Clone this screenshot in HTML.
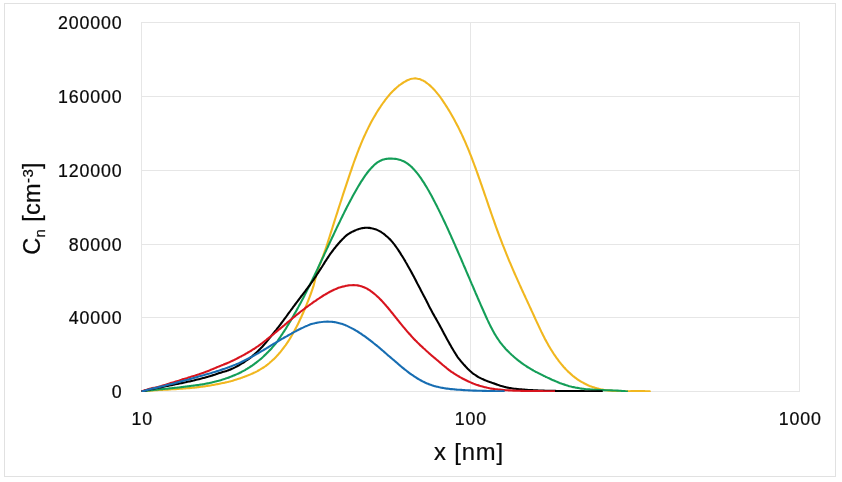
<!DOCTYPE html>
<html lang="en">
<head>
<meta charset="utf-8">
<title>Particle size distribution</title>
<style>
html,body{margin:0;padding:0;background:#fff;}
body{width:842px;height:482px;overflow:hidden;}
svg{display:block;}
text{font-family:"Liberation Sans",sans-serif;fill:#0a0a0a;stroke:#0a0a0a;stroke-width:0.22px;}
.tick{font-size:17.8px;letter-spacing:0.85px;}
.title{font-size:23.8px;letter-spacing:0.9px;}
.ytitle{letter-spacing:0.35px;font-size:23.5px;}
.sub{font-size:15px;}
.sup{font-size:15px;}
.grid line{stroke:#e6e6e6;stroke-width:1;shape-rendering:crispEdges;}
.series path{fill:none;stroke-width:2.1;stroke-linecap:butt;stroke-linejoin:round;}
</style>
</head>
<body>
<svg width="842" height="482" viewBox="0 0 842 482">
<rect x="0" y="0" width="842" height="482" fill="#ffffff"/>
<rect x="4.5" y="3.5" width="831" height="473" fill="none" stroke="#e1e1e1" stroke-width="1" shape-rendering="crispEdges"/>
<g class="grid">
<line x1="141" y1="22.5" x2="800" y2="22.5"/>
<line x1="141" y1="96.5" x2="800" y2="96.5"/>
<line x1="141" y1="170.5" x2="800" y2="170.5"/>
<line x1="141" y1="244.5" x2="800" y2="244.5"/>
<line x1="141" y1="317.5" x2="800" y2="317.5"/>
<line x1="141" y1="391.5" x2="800" y2="391.5"/>
<line x1="141.5" y1="22" x2="141.5" y2="392"/>
<line x1="470.5" y1="22" x2="470.5" y2="392"/>
<line x1="799.5" y1="22" x2="799.5" y2="392"/>
</g>
<clipPath id="plotclip"><rect x="140" y="20" width="662" height="372"/></clipPath>
<g class="series" clip-path="url(#plotclip)">
<path stroke="#f1b71f" d="M141.5,391.4C141.8,391.4 142.8,391.3 143.5,391.2C144.2,391.2 144.8,391.1 145.5,391.0C146.2,391.0 146.8,390.9 147.5,390.9C148.2,390.8 148.8,390.8 149.5,390.7C150.2,390.6 150.8,390.6 151.5,390.5C152.2,390.5 152.8,390.4 153.5,390.4C154.2,390.3 154.8,390.3 155.5,390.3C156.2,390.2 156.8,390.2 157.5,390.1C158.2,390.1 158.8,390.0 159.5,390.0C160.2,390.0 160.8,389.9 161.5,389.9C162.2,389.9 162.8,389.8 163.5,389.8C164.2,389.7 164.8,389.7 165.5,389.7C166.2,389.6 166.8,389.6 167.5,389.6C168.2,389.5 168.8,389.5 169.5,389.5C170.2,389.4 170.8,389.4 171.5,389.3C172.2,389.3 172.8,389.3 173.5,389.2C174.2,389.2 174.8,389.1 175.5,389.1C176.2,389.0 176.8,389.0 177.5,389.0C178.2,388.9 178.8,388.9 179.5,388.8C180.2,388.8 180.8,388.7 181.5,388.7C182.2,388.6 182.8,388.6 183.5,388.5C184.2,388.5 184.8,388.4 185.5,388.4C186.2,388.3 186.8,388.3 187.5,388.2C188.2,388.2 188.8,388.1 189.5,388.1C190.2,388.0 190.8,388.0 191.5,387.9C192.2,387.8 192.8,387.8 193.5,387.7C194.2,387.6 194.8,387.6 195.5,387.5C196.2,387.4 196.8,387.4 197.5,387.3C198.2,387.2 198.8,387.1 199.5,387.0C200.2,386.9 200.8,386.8 201.5,386.8C202.2,386.7 202.8,386.6 203.5,386.5C204.2,386.4 204.8,386.3 205.5,386.2C206.2,386.1 206.8,386.0 207.5,385.9C208.2,385.8 208.8,385.7 209.5,385.6C210.2,385.4 210.8,385.3 211.5,385.2C212.2,385.1 212.8,385.0 213.5,384.9C214.2,384.7 214.8,384.6 215.5,384.5C216.2,384.4 216.8,384.3 217.5,384.1C218.2,384.0 218.8,383.9 219.5,383.7C220.2,383.6 220.8,383.4 221.5,383.3C222.2,383.2 222.8,383.0 223.5,382.9C224.2,382.7 224.8,382.6 225.5,382.4C226.2,382.3 226.8,382.1 227.5,382.0C228.2,381.8 228.8,381.6 229.5,381.5C230.2,381.3 230.8,381.1 231.5,381.0C232.2,380.8 232.8,380.6 233.5,380.4C234.2,380.2 234.8,380.0 235.5,379.8C236.2,379.6 236.8,379.4 237.5,379.1C238.2,378.9 238.8,378.7 239.5,378.5C240.2,378.3 240.8,378.0 241.5,377.8C242.2,377.6 242.8,377.3 243.5,377.1C244.2,376.8 244.8,376.6 245.5,376.3C246.2,376.1 246.8,375.8 247.5,375.6C248.2,375.3 248.8,375.0 249.5,374.8C250.2,374.5 250.8,374.2 251.5,373.9C252.2,373.6 252.8,373.3 253.5,373.0C254.2,372.7 254.8,372.4 255.5,372.1C256.2,371.7 256.8,371.4 257.5,371.1C258.2,370.7 258.8,370.3 259.5,369.9C260.2,369.6 260.8,369.2 261.5,368.7C262.2,368.3 262.8,367.9 263.5,367.5C264.2,367.0 264.8,366.5 265.5,366.1C266.2,365.6 266.8,365.1 267.5,364.6C268.2,364.0 268.8,363.5 269.5,363.0C270.2,362.4 270.8,361.8 271.5,361.2C272.2,360.6 272.8,360.0 273.5,359.4C274.2,358.7 274.8,358.1 275.5,357.4C276.2,356.7 276.8,356.0 277.5,355.3C278.2,354.6 278.8,353.8 279.5,353.0C280.2,352.2 280.8,351.4 281.5,350.6C282.2,349.8 282.8,348.9 283.5,348.0C284.2,347.1 284.8,346.2 285.5,345.3C286.2,344.3 286.8,343.4 287.5,342.4C288.2,341.4 288.8,340.3 289.5,339.3C290.2,338.2 290.8,337.1 291.5,336.0C292.2,334.8 292.8,333.7 293.5,332.5C294.2,331.3 294.8,330.1 295.5,328.8C296.2,327.5 296.8,326.2 297.5,324.9C298.2,323.6 298.8,322.2 299.5,320.8C300.2,319.4 300.8,318.0 301.5,316.5C302.2,315.0 302.8,313.5 303.5,312.0C304.2,310.5 304.8,308.9 305.5,307.3C306.2,305.7 306.8,304.1 307.5,302.4C308.2,300.7 308.8,299.0 309.5,297.3C310.2,295.5 310.9,293.7 311.5,291.9C312.1,290.1 312.8,288.3 313.4,286.4C313.9,284.5 314.4,282.6 314.9,280.6C315.4,278.7 315.9,276.7 316.4,274.7C317.0,272.7 317.6,270.6 318.3,268.5C319.0,266.5 319.9,264.4 320.7,262.3C321.5,260.2 322.4,258.1 323.1,256.0C323.9,253.9 324.6,251.8 325.4,249.7C326.1,247.6 326.8,245.4 327.5,243.3C328.2,241.2 328.8,239.1 329.5,237.0C330.2,234.9 330.8,232.7 331.5,230.6C332.2,228.5 332.8,226.4 333.5,224.3C334.2,222.2 334.8,220.1 335.5,218.0C336.2,215.9 336.8,213.8 337.5,211.8C338.2,209.7 338.8,207.6 339.5,205.5C340.2,203.5 340.8,201.4 341.5,199.3C342.2,197.3 342.8,195.2 343.5,193.2C344.2,191.2 344.8,189.1 345.5,187.1C346.2,185.1 346.8,183.1 347.5,181.1C348.2,179.1 348.8,177.1 349.5,175.1C350.2,173.2 350.8,171.2 351.5,169.3C352.2,167.3 352.8,165.4 353.5,163.5C354.2,161.7 354.8,159.8 355.5,158.0C356.2,156.2 356.8,154.4 357.5,152.6C358.2,150.9 358.8,149.2 359.5,147.5C360.2,145.9 360.8,144.3 361.5,142.7C362.2,141.1 362.8,139.5 363.5,138.0C364.2,136.5 364.8,135.1 365.5,133.6C366.2,132.2 366.8,130.8 367.5,129.4C368.2,128.1 368.8,126.7 369.5,125.4C370.2,124.1 370.8,122.9 371.5,121.6C372.2,120.4 372.8,119.2 373.5,118.0C374.2,116.8 374.8,115.7 375.5,114.6C376.2,113.4 376.8,112.4 377.5,111.3C378.2,110.2 378.8,109.2 379.5,108.2C380.2,107.2 380.8,106.2 381.5,105.2C382.2,104.2 382.8,103.3 383.5,102.4C384.2,101.5 384.8,100.6 385.5,99.7C386.2,98.8 386.8,98.0 387.5,97.1C388.2,96.3 388.8,95.5 389.5,94.7C390.2,93.9 390.8,93.2 391.5,92.5C392.2,91.8 392.8,91.1 393.5,90.5C394.2,89.8 394.8,89.2 395.5,88.6C396.2,88.0 396.8,87.4 397.5,86.8C398.2,86.3 398.8,85.7 399.5,85.2C400.2,84.7 400.8,84.3 401.5,83.8C402.2,83.4 402.8,82.9 403.5,82.5C404.2,82.1 404.8,81.7 405.5,81.3C406.2,80.9 406.8,80.5 407.5,80.2C408.2,79.9 408.8,79.6 409.5,79.4C410.2,79.1 410.8,78.9 411.5,78.8C412.2,78.6 412.8,78.5 413.5,78.5C414.2,78.4 414.8,78.4 415.5,78.4C416.2,78.5 416.8,78.5 417.5,78.7C418.2,78.8 418.8,78.9 419.5,79.1C420.2,79.3 420.8,79.6 421.5,79.9C422.2,80.1 422.8,80.5 423.5,80.8C424.2,81.2 424.8,81.6 425.5,82.0C426.2,82.5 426.8,82.9 427.5,83.5C428.2,84.0 428.8,84.5 429.5,85.1C430.2,85.7 430.8,86.3 431.5,87.0C432.2,87.6 432.8,88.3 433.5,89.0C434.2,89.7 434.8,90.4 435.5,91.2C436.2,91.9 436.8,92.7 437.5,93.6C438.2,94.4 438.8,95.2 439.5,96.1C440.2,97.0 440.8,98.0 441.5,98.9C442.2,99.9 442.8,100.8 443.5,101.8C444.2,102.8 444.8,103.8 445.5,104.9C446.2,105.9 446.8,106.9 447.5,108.0C448.2,109.1 448.8,110.2 449.5,111.3C450.2,112.4 450.8,113.6 451.5,114.7C452.2,115.9 452.8,117.1 453.5,118.3C454.2,119.5 454.8,120.7 455.5,122.0C456.2,123.2 456.8,124.5 457.5,125.8C458.2,127.1 458.8,128.4 459.5,129.8C460.2,131.1 460.8,132.5 461.5,133.9C462.2,135.3 462.8,136.8 463.5,138.2C464.2,139.7 464.8,141.2 465.5,142.7C466.2,144.3 466.8,145.8 467.5,147.4C468.2,149.0 468.8,150.6 469.5,152.3C470.2,154.0 470.8,155.6 471.5,157.4C472.2,159.1 472.8,160.8 473.5,162.6C474.2,164.4 474.8,166.2 475.5,168.0C476.2,169.8 476.8,171.7 477.5,173.5C478.2,175.4 478.8,177.3 479.5,179.2C480.2,181.1 480.8,183.0 481.5,184.9C482.2,186.8 482.8,188.8 483.5,190.7C484.2,192.7 484.8,194.6 485.5,196.5C486.2,198.5 486.8,200.4 487.5,202.4C488.2,204.3 488.8,206.3 489.5,208.2C490.2,210.1 490.8,212.1 491.5,214.0C492.2,215.9 492.8,217.8 493.5,219.7C494.2,221.6 494.8,223.5 495.5,225.3C496.2,227.2 496.8,229.0 497.5,230.9C498.2,232.7 498.8,234.5 499.5,236.3C500.2,238.0 500.8,239.8 501.5,241.5C502.2,243.3 502.8,245.0 503.5,246.7C504.2,248.4 504.8,250.0 505.5,251.7C506.2,253.4 506.8,255.0 507.5,256.6C508.2,258.2 508.8,259.9 509.5,261.5C510.2,263.0 510.8,264.6 511.5,266.2C512.2,267.8 512.8,269.3 513.5,270.8C514.2,272.4 514.8,273.9 515.5,275.4C516.2,276.9 516.8,278.4 517.5,279.9C518.2,281.4 518.8,282.9 519.5,284.4C520.2,285.8 520.8,287.3 521.5,288.8C522.2,290.2 522.8,291.7 523.5,293.1C524.2,294.6 524.8,296.0 525.5,297.5C526.2,298.9 526.8,300.4 527.5,301.8C528.2,303.3 528.8,304.7 529.5,306.1C530.2,307.6 530.8,309.0 531.5,310.5C532.2,311.9 532.8,313.4 533.5,314.8C534.2,316.3 534.8,317.7 535.5,319.2C536.2,320.6 536.8,322.1 537.5,323.5C538.2,324.9 538.8,326.4 539.5,327.8C540.2,329.2 540.8,330.6 541.5,332.0C542.2,333.3 542.8,334.7 543.5,336.0C544.2,337.3 544.8,338.6 545.5,339.9C546.2,341.1 546.8,342.3 547.5,343.5C548.2,344.7 548.8,345.9 549.5,347.0C550.2,348.2 550.8,349.3 551.5,350.3C552.2,351.4 552.8,352.5 553.5,353.5C554.2,354.5 554.8,355.5 555.5,356.4C556.2,357.4 556.8,358.3 557.5,359.2C558.2,360.1 558.8,361.0 559.5,361.9C560.2,362.7 560.8,363.6 561.5,364.4C562.2,365.2 562.8,365.9 563.5,366.7C564.2,367.4 564.8,368.2 565.5,368.9C566.2,369.6 566.8,370.3 567.5,370.9C568.2,371.6 568.8,372.2 569.5,372.8C570.2,373.5 570.8,374.1 571.5,374.6C572.2,375.2 572.8,375.8 573.5,376.3C574.2,376.8 574.8,377.4 575.5,377.9C576.2,378.4 576.8,378.8 577.5,379.3C578.2,379.8 578.8,380.2 579.5,380.6C580.2,381.1 580.8,381.5 581.5,381.9C582.2,382.3 582.8,382.6 583.5,383.0C584.2,383.4 584.8,383.7 585.5,384.0C586.2,384.4 586.8,384.7 587.5,385.0C588.2,385.3 588.8,385.6 589.5,385.9C590.2,386.1 590.8,386.4 591.5,386.6C592.2,386.9 592.8,387.1 593.5,387.3C594.2,387.6 594.8,387.8 595.5,388.0C596.2,388.2 596.8,388.4 597.5,388.5C598.2,388.7 598.8,388.9 599.5,389.0C600.2,389.2 600.8,389.3 601.5,389.5C602.2,389.6 602.8,389.7 603.5,389.8C604.2,389.9 604.8,390.1 605.5,390.1C606.2,390.2 606.8,390.3 607.5,390.4C608.2,390.5 608.8,390.6 609.5,390.6C610.2,390.7 610.8,390.8 611.5,390.8C612.2,390.9 612.8,390.9 613.5,391.0C614.2,391.0 614.8,391.0 615.5,391.1C616.2,391.1 616.8,391.1 617.5,391.1C618.2,391.2 618.8,391.2 619.5,391.2C620.2,391.2 620.8,391.2 621.5,391.2C622.2,391.2 622.8,391.2 623.5,391.2C624.2,391.2 624.8,391.2 625.5,391.2C626.2,391.2 626.8,391.2 627.5,391.2C628.2,391.2 628.8,391.2 629.5,391.2C630.2,391.2 630.8,391.2 631.5,391.1C632.2,391.1 632.8,391.1 633.5,391.1C634.2,391.1 634.8,391.1 635.5,391.1C636.2,391.1 636.8,391.1 637.5,391.1C638.2,391.1 638.8,391.1 639.5,391.1C640.2,391.1 640.8,391.1 641.5,391.1C642.2,391.1 642.8,391.1 643.5,391.1C644.2,391.1 644.8,391.2 645.5,391.2C646.2,391.2 646.8,391.2 647.5,391.3C648.2,391.3 649.1,391.4 649.5,391.4C649.9,391.4 649.8,391.4 649.8,391.4"/>
<path stroke="#149e58" d="M141.5,391.4C141.8,391.4 142.8,391.2 143.5,391.1C144.2,391.0 144.8,391.0 145.5,390.9C146.2,390.8 146.8,390.7 147.5,390.6C148.2,390.5 148.8,390.5 149.5,390.4C150.2,390.3 150.8,390.2 151.5,390.1C152.2,390.1 152.8,390.0 153.5,389.9C154.2,389.8 154.8,389.8 155.5,389.7C156.2,389.6 156.8,389.6 157.5,389.5C158.2,389.4 158.8,389.4 159.5,389.3C160.2,389.3 160.8,389.2 161.5,389.1C162.2,389.1 162.8,389.0 163.5,388.9C164.2,388.9 164.8,388.8 165.5,388.8C166.2,388.7 166.8,388.6 167.5,388.6C168.2,388.5 168.8,388.5 169.5,388.4C170.2,388.3 170.8,388.3 171.5,388.2C172.2,388.1 172.8,388.1 173.5,388.0C174.2,387.9 174.8,387.9 175.5,387.8C176.2,387.7 176.8,387.7 177.5,387.6C178.2,387.5 178.8,387.4 179.5,387.4C180.2,387.3 180.8,387.2 181.5,387.1C182.2,387.0 182.8,387.0 183.5,386.9C184.2,386.8 184.8,386.7 185.5,386.6C186.2,386.5 186.8,386.5 187.5,386.4C188.2,386.3 188.8,386.2 189.5,386.1C190.2,386.0 190.8,385.9 191.5,385.8C192.2,385.7 192.8,385.7 193.5,385.6C194.2,385.5 194.8,385.4 195.5,385.3C196.2,385.3 196.8,385.2 197.5,385.1C198.2,385.0 198.8,384.9 199.5,384.8C200.2,384.7 200.8,384.6 201.5,384.5C202.2,384.4 202.8,384.3 203.5,384.2C204.2,384.0 204.8,383.9 205.5,383.8C206.2,383.7 206.8,383.5 207.5,383.4C208.2,383.3 208.8,383.1 209.5,383.0C210.2,382.9 210.8,382.7 211.5,382.6C212.2,382.4 212.8,382.3 213.5,382.1C214.2,381.9 214.8,381.8 215.5,381.6C216.2,381.4 216.8,381.3 217.5,381.1C218.2,380.9 218.8,380.7 219.5,380.5C220.2,380.3 220.8,380.1 221.5,379.9C222.2,379.7 222.8,379.5 223.5,379.3C224.2,379.1 224.8,378.9 225.5,378.6C226.2,378.4 226.8,378.2 227.5,377.9C228.2,377.7 228.8,377.5 229.5,377.2C230.2,376.9 230.8,376.7 231.5,376.4C232.2,376.2 232.8,375.9 233.5,375.6C234.2,375.4 234.8,375.1 235.5,374.8C236.2,374.5 236.8,374.2 237.5,373.9C238.2,373.6 238.8,373.3 239.5,373.0C240.2,372.7 240.8,372.3 241.5,372.0C242.2,371.6 242.8,371.3 243.5,370.9C244.2,370.6 244.8,370.2 245.5,369.8C246.2,369.4 246.8,369.0 247.5,368.6C248.2,368.2 248.8,367.7 249.5,367.3C250.2,366.9 250.8,366.4 251.5,366.0C252.2,365.5 252.8,365.1 253.5,364.6C254.2,364.1 254.8,363.6 255.5,363.1C256.2,362.6 256.8,362.1 257.5,361.6C258.2,361.1 258.8,360.5 259.5,360.0C260.2,359.4 260.8,358.8 261.5,358.3C262.2,357.7 262.8,357.1 263.5,356.5C264.2,355.9 264.8,355.3 265.5,354.6C266.2,354.0 266.8,353.3 267.5,352.6C268.2,352.0 268.8,351.3 269.5,350.6C270.2,349.9 270.8,349.1 271.5,348.4C272.2,347.7 272.8,346.9 273.5,346.1C274.2,345.3 274.8,344.5 275.5,343.7C276.2,342.9 276.8,342.0 277.5,341.1C278.2,340.1 278.8,339.2 279.5,338.2C280.2,337.2 280.8,336.2 281.5,335.2C282.2,334.2 282.8,333.2 283.5,332.2C284.2,331.2 284.8,330.1 285.5,329.1C286.2,328.0 286.8,326.9 287.5,325.8C288.2,324.7 288.8,323.6 289.5,322.5C290.2,321.4 290.8,320.3 291.5,319.2C292.2,318.0 292.8,316.9 293.5,315.7C294.2,314.6 294.8,313.4 295.5,312.2C296.2,311.0 296.8,309.8 297.5,308.6C298.2,307.4 298.8,306.2 299.5,304.9C300.2,303.7 300.8,302.5 301.5,301.2C302.2,300.0 302.8,298.7 303.5,297.4C304.2,296.1 304.8,294.8 305.5,293.5C306.2,292.2 306.8,290.9 307.5,289.6C308.2,288.2 308.8,286.9 309.5,285.5C310.2,284.2 310.8,282.8 311.5,281.5C312.2,280.1 312.8,278.7 313.5,277.3C314.2,276.0 314.8,274.6 315.5,273.2C316.2,271.8 316.8,270.4 317.5,269.0C318.2,267.5 318.8,266.1 319.5,264.7C320.2,263.3 320.8,261.9 321.5,260.4C322.2,259.0 322.8,257.6 323.5,256.2C324.2,254.7 324.8,253.3 325.5,251.9C326.2,250.4 326.8,249.0 327.5,247.6C328.2,246.1 328.8,244.7 329.5,243.3C330.2,241.9 330.8,240.4 331.5,239.0C332.2,237.6 332.8,236.2 333.5,234.7C334.2,233.3 334.8,231.9 335.5,230.5C336.2,229.1 336.8,227.7 337.5,226.3C338.2,224.9 338.8,223.5 339.5,222.2C340.2,220.8 340.8,219.4 341.5,218.0C342.2,216.7 342.8,215.3 343.5,214.0C344.2,212.6 344.8,211.3 345.5,210.0C346.2,208.7 346.8,207.4 347.5,206.1C348.2,204.8 348.8,203.5 349.5,202.2C350.2,200.9 350.8,199.7 351.5,198.5C352.2,197.2 352.8,196.0 353.5,194.8C354.2,193.6 354.8,192.4 355.5,191.2C356.2,190.0 356.8,188.9 357.5,187.7C358.2,186.6 358.8,185.5 359.5,184.4C360.2,183.3 360.8,182.2 361.5,181.2C362.2,180.1 362.8,179.1 363.5,178.1C364.2,177.1 364.8,176.2 365.5,175.2C366.2,174.3 366.8,173.4 367.5,172.5C368.2,171.7 368.8,170.8 369.5,170.1C370.2,169.3 370.8,168.5 371.5,167.8C372.2,167.1 372.8,166.4 373.5,165.7C374.2,165.1 374.8,164.5 375.5,163.9C376.2,163.4 376.8,162.9 377.5,162.4C378.2,162.0 378.8,161.5 379.5,161.2C380.2,160.8 380.8,160.5 381.5,160.2C382.2,159.9 382.8,159.7 383.5,159.5C384.2,159.3 384.8,159.2 385.5,159.0C386.2,158.9 386.8,158.8 387.5,158.7C388.2,158.7 388.8,158.6 389.5,158.6C390.2,158.6 390.8,158.6 391.5,158.6C392.2,158.6 392.8,158.6 393.5,158.7C394.2,158.7 394.8,158.8 395.5,158.9C396.2,159.0 396.8,159.1 397.5,159.2C398.2,159.4 398.8,159.5 399.5,159.7C400.2,159.9 400.8,160.1 401.5,160.4C402.2,160.6 402.8,160.9 403.5,161.2C404.2,161.6 404.8,161.9 405.5,162.3C406.2,162.7 406.8,163.1 407.5,163.6C408.2,164.1 408.8,164.6 409.5,165.1C410.2,165.7 410.8,166.3 411.5,166.9C412.2,167.5 412.8,168.2 413.5,168.9C414.2,169.6 414.8,170.4 415.5,171.2C416.2,171.9 416.8,172.8 417.5,173.6C418.2,174.5 418.8,175.4 419.5,176.3C420.2,177.2 420.8,178.2 421.5,179.1C422.2,180.1 422.8,181.1 423.5,182.2C424.2,183.2 424.8,184.3 425.5,185.4C426.2,186.4 426.8,187.6 427.5,188.7C428.2,189.8 428.8,191.0 429.5,192.2C430.2,193.4 430.8,194.6 431.5,195.8C432.2,197.1 432.8,198.3 433.5,199.6C434.2,200.8 434.8,202.1 435.5,203.4C436.2,204.7 436.8,206.0 437.5,207.4C438.2,208.7 438.8,210.1 439.5,211.4C440.2,212.8 440.8,214.2 441.5,215.5C442.2,216.9 442.8,218.3 443.5,219.7C444.2,221.2 444.8,222.6 445.5,224.0C446.2,225.4 446.8,226.9 447.5,228.3C448.2,229.8 448.8,231.3 449.5,232.7C450.2,234.2 450.8,235.7 451.5,237.2C452.2,238.7 452.8,240.2 453.5,241.7C454.2,243.2 454.8,244.7 455.5,246.2C456.2,247.7 456.8,249.3 457.5,250.8C458.2,252.3 458.8,253.9 459.5,255.4C460.2,256.9 460.8,258.5 461.5,260.0C462.2,261.6 462.8,263.1 463.5,264.7C464.2,266.2 464.8,267.8 465.5,269.3C466.2,270.9 466.8,272.5 467.5,274.0C468.2,275.6 468.8,277.1 469.5,278.7C470.2,280.3 470.8,281.8 471.5,283.4C472.2,284.9 472.8,286.5 473.5,288.0C474.2,289.6 474.8,291.1 475.5,292.7C476.2,294.2 476.8,295.8 477.5,297.3C478.2,298.9 478.8,300.4 479.5,301.9C480.2,303.5 480.8,305.0 481.5,306.5C482.2,308.0 482.8,309.5 483.5,311.0C484.2,312.5 484.8,314.0 485.5,315.5C486.2,317.0 486.8,318.4 487.5,319.9C488.2,321.3 488.8,322.7 489.5,324.1C490.2,325.5 490.8,326.8 491.5,328.1C492.2,329.4 492.8,330.6 493.5,331.8C494.2,333.0 494.8,334.2 495.5,335.2C496.2,336.3 496.8,337.4 497.5,338.4C498.2,339.4 498.8,340.4 499.5,341.3C500.2,342.2 500.8,343.1 501.5,343.9C502.2,344.8 502.8,345.6 503.5,346.4C504.2,347.2 504.8,347.9 505.5,348.7C506.2,349.4 506.8,350.1 507.5,350.8C508.2,351.5 508.8,352.1 509.5,352.8C510.2,353.4 510.8,354.1 511.5,354.7C512.2,355.3 512.8,355.9 513.5,356.5C514.2,357.1 514.8,357.7 515.5,358.2C516.2,358.8 516.8,359.3 517.5,359.9C518.2,360.4 518.8,360.9 519.5,361.4C520.2,361.9 520.8,362.4 521.5,362.9C522.2,363.4 522.8,363.9 523.5,364.3C524.2,364.8 524.8,365.3 525.5,365.7C526.2,366.1 526.8,366.6 527.5,367.0C528.2,367.4 528.8,367.8 529.5,368.2C530.2,368.6 530.8,369.0 531.5,369.4C532.2,369.8 532.8,370.2 533.5,370.6C534.2,370.9 534.8,371.3 535.5,371.7C536.2,372.0 536.8,372.4 537.5,372.7C538.2,373.1 538.8,373.4 539.5,373.7C540.2,374.1 540.8,374.4 541.5,374.7C542.2,375.1 542.8,375.4 543.5,375.7C544.2,376.0 544.8,376.4 545.5,376.7C546.2,377.0 546.8,377.3 547.5,377.6C548.2,377.9 548.8,378.2 549.5,378.5C550.2,378.8 550.8,379.1 551.5,379.5C552.2,379.8 552.8,380.0 553.5,380.3C554.2,380.6 554.8,380.9 555.5,381.2C556.2,381.5 556.8,381.8 557.5,382.0C558.2,382.3 558.8,382.6 559.5,382.9C560.2,383.1 560.8,383.4 561.5,383.6C562.2,383.9 562.8,384.1 563.5,384.3C564.2,384.6 564.8,384.8 565.5,385.0C566.2,385.2 566.8,385.4 567.5,385.6C568.2,385.8 568.8,386.0 569.5,386.2C570.2,386.3 570.8,386.5 571.5,386.7C572.2,386.8 572.8,387.0 573.5,387.1C574.2,387.3 574.8,387.4 575.5,387.6C576.2,387.7 576.8,387.8 577.5,387.9C578.2,388.0 578.8,388.2 579.5,388.3C580.2,388.4 580.8,388.5 581.5,388.6C582.2,388.7 582.8,388.7 583.5,388.8C584.2,388.9 584.8,389.0 585.5,389.1C586.2,389.1 586.8,389.2 587.5,389.3C588.2,389.3 588.8,389.4 589.5,389.4C590.2,389.5 590.8,389.5 591.5,389.6C592.2,389.6 592.8,389.7 593.5,389.7C594.2,389.8 594.8,389.8 595.5,389.8C596.2,389.9 596.8,389.9 597.5,389.9C598.2,390.0 598.8,390.0 599.5,390.0C600.2,390.0 600.8,390.1 601.5,390.1C602.2,390.1 602.8,390.1 603.5,390.1C604.2,390.2 604.8,390.2 605.5,390.2C606.2,390.2 606.8,390.3 607.5,390.3C608.2,390.3 608.8,390.3 609.5,390.3C610.2,390.4 610.8,390.4 611.5,390.4C612.2,390.4 612.8,390.4 613.5,390.5C614.2,390.5 614.8,390.5 615.5,390.5C616.2,390.6 616.8,390.6 617.5,390.6C618.2,390.7 618.8,390.7 619.5,390.7C620.2,390.8 620.8,390.8 621.5,390.9C622.2,390.9 622.8,391.0 623.5,391.0C624.2,391.1 624.8,391.1 625.5,391.2C626.2,391.2 627.1,391.3 627.5,391.4C627.9,391.4 627.8,391.4 627.9,391.4"/>
<path stroke="#000000" d="M141.5,391.4C141.8,391.3 142.8,391.1 143.5,390.9C144.2,390.7 144.8,390.6 145.5,390.4C146.2,390.3 146.8,390.1 147.5,390.0C148.2,389.8 148.8,389.6 149.5,389.5C150.2,389.3 150.8,389.2 151.5,389.0C152.2,388.9 152.8,388.8 153.5,388.6C154.2,388.5 154.8,388.4 155.5,388.2C156.2,388.1 156.8,388.0 157.5,387.8C158.2,387.7 158.8,387.6 159.5,387.5C160.2,387.3 160.8,387.2 161.5,387.1C162.2,386.9 162.8,386.8 163.5,386.7C164.2,386.5 164.8,386.4 165.5,386.3C166.2,386.2 166.8,386.0 167.5,385.9C168.2,385.8 168.8,385.6 169.5,385.5C170.2,385.4 170.8,385.2 171.5,385.1C172.2,385.0 172.8,384.8 173.5,384.7C174.2,384.6 174.8,384.4 175.5,384.3C176.2,384.2 176.8,384.0 177.5,383.9C178.2,383.8 178.8,383.6 179.5,383.5C180.2,383.4 180.8,383.2 181.5,383.1C182.2,383.0 182.8,382.8 183.5,382.7C184.2,382.5 184.8,382.4 185.5,382.3C186.2,382.1 186.8,382.0 187.5,381.8C188.2,381.7 188.8,381.5 189.5,381.4C190.2,381.2 190.8,381.1 191.5,380.9C192.2,380.8 192.8,380.6 193.5,380.5C194.2,380.3 194.8,380.2 195.5,380.0C196.2,379.9 196.8,379.7 197.5,379.5C198.2,379.4 198.8,379.2 199.5,379.1C200.2,378.9 200.8,378.7 201.5,378.5C202.2,378.4 202.8,378.2 203.5,378.0C204.2,377.8 204.8,377.6 205.5,377.4C206.2,377.3 206.8,377.1 207.5,376.9C208.2,376.7 208.8,376.5 209.5,376.3C210.2,376.1 210.8,375.9 211.5,375.7C212.2,375.5 212.8,375.3 213.5,375.0C214.2,374.8 214.8,374.6 215.5,374.4C216.2,374.2 216.8,374.0 217.5,373.8C218.2,373.5 218.8,373.3 219.5,373.1C220.2,372.9 220.8,372.7 221.5,372.5C222.2,372.2 222.8,372.0 223.5,371.8C224.2,371.6 224.8,371.4 225.5,371.2C226.2,371.0 226.8,370.8 227.5,370.6C228.2,370.3 228.8,370.1 229.5,369.8C230.2,369.6 230.8,369.3 231.5,369.0C232.2,368.7 232.8,368.4 233.5,368.1C234.2,367.7 234.8,367.4 235.5,367.1C236.2,366.7 236.8,366.4 237.5,366.0C238.2,365.7 238.8,365.3 239.5,364.9C240.2,364.5 240.8,364.1 241.5,363.7C242.2,363.3 242.8,362.9 243.5,362.5C244.2,362.1 244.8,361.6 245.5,361.2C246.2,360.8 246.8,360.3 247.5,359.8C248.2,359.4 248.8,358.9 249.5,358.4C250.2,357.9 250.8,357.3 251.5,356.8C252.2,356.3 252.8,355.7 253.5,355.2C254.2,354.6 254.8,354.0 255.5,353.4C256.2,352.8 256.8,352.2 257.5,351.6C258.2,351.0 258.8,350.3 259.5,349.6C260.2,349.0 260.8,348.3 261.5,347.6C262.2,346.8 262.8,346.1 263.5,345.3C264.2,344.6 264.8,343.8 265.5,343.0C266.2,342.2 266.8,341.4 267.5,340.6C268.2,339.8 268.8,338.9 269.5,338.1C270.2,337.3 270.8,336.5 271.5,335.6C272.2,334.8 272.8,334.0 273.5,333.2C274.2,332.4 274.8,331.6 275.5,330.8C276.2,330.0 276.8,329.1 277.5,328.3C278.2,327.5 278.8,326.6 279.5,325.7C280.2,324.8 280.8,323.9 281.5,323.0C282.2,322.1 282.8,321.2 283.5,320.3C284.2,319.4 284.8,318.5 285.5,317.6C286.2,316.7 286.8,315.8 287.5,314.8C288.2,313.9 288.8,313.0 289.5,312.1C290.2,311.2 290.8,310.3 291.5,309.4C292.2,308.5 292.8,307.6 293.5,306.7C294.2,305.8 294.8,304.9 295.5,304.0C296.2,303.1 296.8,302.2 297.5,301.3C298.2,300.4 298.8,299.6 299.5,298.7C300.2,297.8 300.8,296.9 301.5,296.0C302.2,295.2 302.8,294.3 303.5,293.4C304.2,292.5 304.8,291.7 305.5,290.8C306.2,289.9 306.8,289.0 307.5,288.1C308.2,287.3 308.8,286.4 309.5,285.5C310.2,284.5 310.8,283.6 311.5,282.7C312.2,281.7 312.8,280.8 313.5,279.8C314.2,278.8 314.8,277.8 315.5,276.8C316.2,275.8 316.8,274.7 317.5,273.7C318.2,272.7 318.8,271.6 319.5,270.6C320.2,269.6 320.8,268.6 321.5,267.5C322.2,266.5 322.8,265.4 323.5,264.4C324.2,263.3 324.8,262.2 325.5,261.2C326.2,260.2 326.8,259.1 327.5,258.1C328.2,257.1 328.8,256.1 329.5,255.1C330.2,254.2 330.8,253.2 331.5,252.3C332.2,251.4 332.8,250.6 333.5,249.7C334.2,248.8 334.8,248.0 335.5,247.2C336.2,246.3 336.8,245.5 337.5,244.7C338.2,243.9 338.8,243.2 339.5,242.4C340.2,241.7 340.8,240.9 341.5,240.2C342.2,239.5 342.8,238.8 343.5,238.2C344.2,237.5 344.8,236.8 345.5,236.2C346.2,235.7 346.8,235.1 347.5,234.6C348.2,234.1 348.8,233.7 349.5,233.3C350.2,232.9 350.8,232.6 351.5,232.2C352.2,231.9 352.8,231.5 353.5,231.2C354.2,230.9 354.8,230.6 355.5,230.3C356.2,229.9 356.8,229.7 357.5,229.4C358.2,229.2 358.8,228.9 359.5,228.8C360.2,228.6 360.8,228.4 361.5,228.3C362.2,228.2 362.8,228.1 363.5,228.0C364.2,227.9 364.8,227.9 365.5,227.8C366.2,227.8 366.8,227.8 367.5,227.8C368.2,227.8 368.8,227.9 369.5,227.9C370.2,228.0 370.8,228.1 371.5,228.3C372.2,228.4 372.8,228.5 373.5,228.7C374.2,228.9 374.8,229.1 375.5,229.3C376.2,229.5 376.8,229.8 377.5,230.1C378.2,230.4 378.8,230.7 379.5,231.1C380.2,231.5 380.8,231.9 381.5,232.3C382.2,232.7 382.8,233.2 383.5,233.7C384.2,234.2 384.8,234.7 385.5,235.3C386.2,235.8 386.8,236.4 387.5,237.0C388.2,237.6 388.8,238.2 389.5,238.9C390.2,239.5 390.8,240.2 391.5,241.0C392.2,241.7 392.8,242.5 393.5,243.4C394.2,244.2 394.8,245.2 395.5,246.1C396.2,247.0 396.8,248.0 397.5,248.9C398.2,249.9 398.8,250.9 399.5,251.9C400.2,252.9 400.8,254.0 401.5,255.1C402.2,256.1 402.8,257.2 403.5,258.3C404.2,259.4 404.8,260.5 405.5,261.7C406.2,262.8 406.8,264.0 407.5,265.2C408.2,266.4 408.8,267.6 409.5,268.8C410.2,270.0 410.8,271.2 411.5,272.4C412.2,273.6 412.8,274.9 413.5,276.1C414.2,277.4 414.8,278.6 415.5,279.9C416.2,281.1 416.8,282.4 417.5,283.7C418.2,284.9 418.8,286.2 419.5,287.5C420.2,288.8 420.8,290.1 421.5,291.4C422.2,292.7 422.8,294.0 423.5,295.3C424.2,296.6 424.8,297.9 425.5,299.1C426.2,300.4 426.8,301.7 427.5,303.0C428.2,304.3 428.8,305.6 429.5,306.9C430.2,308.2 430.8,309.5 431.5,310.7C432.2,312.0 432.8,313.2 433.5,314.4C434.2,315.6 434.8,316.7 435.5,317.9C436.2,319.1 436.8,320.3 437.5,321.5C438.2,322.7 438.8,323.9 439.5,325.1C440.2,326.3 440.8,327.6 441.5,328.8C442.2,330.1 442.8,331.3 443.5,332.6C444.2,333.8 444.8,335.1 445.5,336.3C446.2,337.6 446.8,338.8 447.5,340.0C448.2,341.2 448.8,342.4 449.5,343.6C450.2,344.8 450.8,345.9 451.5,347.1C452.2,348.2 452.8,349.4 453.5,350.5C454.2,351.6 454.8,352.7 455.5,353.7C456.2,354.8 456.8,355.8 457.5,356.8C458.2,357.7 458.8,358.6 459.5,359.4C460.2,360.3 460.8,361.1 461.5,361.9C462.2,362.6 462.8,363.4 463.5,364.2C464.2,364.9 464.8,365.7 465.5,366.4C466.2,367.2 466.8,367.9 467.5,368.6C468.2,369.2 468.8,369.9 469.5,370.5C470.2,371.1 470.8,371.7 471.5,372.2C472.2,372.8 472.8,373.3 473.5,373.8C474.2,374.3 474.8,374.8 475.5,375.2C476.2,375.7 476.8,376.1 477.5,376.5C478.2,376.9 478.8,377.3 479.5,377.6C480.2,378.0 480.8,378.3 481.5,378.6C482.2,378.9 482.8,379.2 483.5,379.5C484.2,379.8 484.8,380.1 485.5,380.4C486.2,380.7 486.8,380.9 487.5,381.2C488.2,381.4 488.8,381.7 489.5,381.9C490.2,382.2 490.8,382.4 491.5,382.6C492.2,382.9 492.8,383.1 493.5,383.3C494.2,383.6 494.8,383.8 495.5,384.0C496.2,384.3 496.8,384.5 497.5,384.7C498.2,384.9 498.8,385.2 499.5,385.4C500.2,385.6 500.8,385.8 501.5,386.0C502.2,386.2 502.8,386.4 503.5,386.6C504.2,386.8 504.8,387.0 505.5,387.1C506.2,387.3 506.8,387.5 507.5,387.6C508.2,387.7 508.8,387.9 509.5,388.0C510.2,388.1 510.8,388.2 511.5,388.3C512.2,388.4 512.8,388.5 513.5,388.6C514.2,388.6 514.8,388.7 515.5,388.8C516.2,388.9 516.8,389.0 517.5,389.0C518.2,389.1 518.8,389.2 519.5,389.2C520.2,389.3 520.8,389.3 521.5,389.4C522.2,389.5 522.8,389.5 523.5,389.6C524.2,389.6 524.8,389.7 525.5,389.7C526.2,389.8 526.8,389.8 527.5,389.9C528.2,389.9 528.8,389.9 529.5,390.0C530.2,390.0 530.8,390.1 531.5,390.1C532.2,390.1 532.8,390.2 533.5,390.2C534.2,390.3 534.8,390.3 535.5,390.3C536.2,390.4 536.8,390.4 537.5,390.4C538.2,390.4 538.8,390.5 539.5,390.5C540.2,390.5 540.8,390.6 541.5,390.6C542.2,390.6 542.8,390.6 543.5,390.6C544.2,390.7 544.8,390.7 545.5,390.7C546.2,390.7 546.8,390.7 547.5,390.8C548.2,390.8 548.8,390.8 549.5,390.8C550.2,390.8 550.8,390.8 551.5,390.9C552.2,390.9 552.8,390.9 553.5,390.9C554.2,390.9 554.8,390.9 555.5,390.9C556.2,390.9 556.8,391.0 557.5,391.0C558.2,391.0 558.8,391.0 559.5,391.0C560.2,391.0 560.8,391.0 561.5,391.0C562.2,391.0 562.8,391.0 563.5,391.0C564.2,391.0 564.8,391.0 565.5,391.0C566.2,391.0 566.8,391.1 567.5,391.1C568.2,391.1 568.8,391.1 569.5,391.1C570.2,391.1 570.8,391.1 571.5,391.1C572.2,391.1 572.8,391.1 573.5,391.1C574.2,391.1 574.8,391.1 575.5,391.1C576.2,391.1 576.8,391.1 577.5,391.1C578.2,391.1 578.8,391.1 579.5,391.1C580.2,391.1 580.8,391.1 581.5,391.1C582.2,391.1 582.8,391.1 583.5,391.1C584.2,391.2 584.8,391.2 585.5,391.2C586.2,391.2 586.8,391.2 587.5,391.2C588.2,391.2 588.8,391.2 589.5,391.2C590.2,391.2 590.8,391.2 591.5,391.2C592.2,391.2 592.8,391.2 593.5,391.2C594.2,391.3 594.8,391.3 595.5,391.3C596.2,391.3 596.8,391.3 597.5,391.3C598.2,391.3 598.8,391.3 599.5,391.3C600.2,391.4 601.1,391.4 601.5,391.4C601.9,391.4 601.8,391.4 601.8,391.4"/>
<path stroke="#d8141e" d="M141.5,391.4C141.8,391.3 142.8,390.9 143.5,390.7C144.2,390.5 144.8,390.3 145.5,390.0C146.2,389.8 146.8,389.6 147.5,389.4C148.2,389.2 148.8,389.0 149.5,388.8C150.2,388.6 150.8,388.4 151.5,388.3C152.2,388.1 152.8,388.0 153.5,387.9C154.2,387.7 154.8,387.6 155.5,387.5C156.2,387.3 156.8,387.2 157.5,387.1C158.2,386.9 158.8,386.7 159.5,386.5C160.2,386.4 160.8,386.1 161.5,385.9C162.2,385.7 162.8,385.5 163.5,385.3C164.2,385.1 164.8,384.9 165.5,384.7C166.2,384.5 166.8,384.3 167.5,384.1C168.2,383.9 168.8,383.7 169.5,383.5C170.2,383.3 170.8,383.1 171.5,382.8C172.2,382.6 172.8,382.4 173.5,382.2C174.2,382.0 174.8,381.8 175.5,381.6C176.2,381.4 176.8,381.2 177.5,381.0C178.2,380.8 178.8,380.6 179.5,380.4C180.2,380.2 180.8,380.0 181.5,379.8C182.2,379.5 182.8,379.3 183.5,379.1C184.2,378.9 184.8,378.7 185.5,378.5C186.2,378.3 186.8,378.1 187.5,377.9C188.2,377.6 188.8,377.4 189.5,377.2C190.2,377.0 190.8,376.8 191.5,376.6C192.2,376.4 192.8,376.2 193.5,376.0C194.2,375.8 194.8,375.6 195.5,375.4C196.2,375.2 196.8,375.0 197.5,374.8C198.2,374.6 198.8,374.4 199.5,374.1C200.2,373.9 200.8,373.7 201.5,373.4C202.2,373.2 202.8,372.9 203.5,372.7C204.2,372.5 204.8,372.2 205.5,371.9C206.2,371.7 206.8,371.4 207.5,371.2C208.2,370.9 208.8,370.6 209.5,370.4C210.2,370.1 210.8,369.8 211.5,369.6C212.2,369.3 212.8,369.0 213.5,368.7C214.2,368.5 214.8,368.2 215.5,367.9C216.2,367.6 216.8,367.3 217.5,367.1C218.2,366.8 218.8,366.5 219.5,366.2C220.2,366.0 220.8,365.7 221.5,365.4C222.2,365.1 222.8,364.9 223.5,364.6C224.2,364.4 224.8,364.1 225.5,363.8C226.2,363.6 226.8,363.3 227.5,363.0C228.2,362.8 228.8,362.5 229.5,362.2C230.2,361.9 230.8,361.6 231.5,361.2C232.2,360.9 232.8,360.6 233.5,360.3C234.2,360.0 234.8,359.6 235.5,359.3C236.2,359.0 236.8,358.6 237.5,358.3C238.2,357.9 238.8,357.6 239.5,357.2C240.2,356.9 240.8,356.5 241.5,356.2C242.2,355.8 242.8,355.5 243.5,355.1C244.2,354.7 244.8,354.4 245.5,354.0C246.2,353.6 246.8,353.2 247.5,352.8C248.2,352.4 248.8,352.1 249.5,351.7C250.2,351.3 250.8,350.9 251.5,350.5C252.2,350.0 252.8,349.6 253.5,349.2C254.2,348.8 254.8,348.3 255.5,347.9C256.2,347.4 256.8,347.0 257.5,346.5C258.2,346.0 258.8,345.6 259.5,345.1C260.2,344.6 260.8,344.1 261.5,343.6C262.2,343.1 262.8,342.6 263.5,342.0C264.2,341.5 264.8,341.0 265.5,340.5C266.2,340.0 266.8,339.4 267.5,338.9C268.2,338.4 268.8,337.8 269.5,337.3C270.2,336.8 270.8,336.2 271.5,335.7C272.2,335.1 272.8,334.6 273.5,334.1C274.2,333.5 274.8,333.0 275.5,332.5C276.2,331.9 276.8,331.4 277.5,330.8C278.2,330.3 278.8,329.7 279.5,329.2C280.2,328.6 280.8,328.1 281.5,327.5C282.2,327.0 282.8,326.4 283.5,325.8C284.2,325.3 284.8,324.7 285.5,324.1C286.2,323.6 286.8,323.0 287.5,322.4C288.2,321.9 288.8,321.3 289.5,320.8C290.2,320.2 290.8,319.6 291.5,319.1C292.2,318.5 292.8,318.0 293.5,317.4C294.2,316.9 294.8,316.3 295.5,315.8C296.2,315.2 296.8,314.7 297.5,314.2C298.2,313.6 298.8,313.1 299.5,312.6C300.2,312.1 300.8,311.5 301.5,311.0C302.2,310.5 302.8,310.0 303.5,309.5C304.2,309.0 304.8,308.5 305.5,307.9C306.2,307.4 306.8,306.9 307.5,306.5C308.2,306.0 308.8,305.5 309.5,305.0C310.2,304.5 310.8,304.0 311.5,303.6C312.2,303.1 312.8,302.6 313.5,302.1C314.2,301.7 314.8,301.2 315.5,300.8C316.2,300.3 316.8,299.9 317.5,299.4C318.2,299.0 318.8,298.5 319.5,298.1C320.2,297.6 320.8,297.2 321.5,296.8C322.2,296.4 322.8,295.9 323.5,295.5C324.2,295.1 324.8,294.7 325.5,294.3C326.2,293.9 326.8,293.5 327.5,293.2C328.2,292.8 328.8,292.4 329.5,292.0C330.2,291.7 330.8,291.3 331.5,291.0C332.2,290.7 332.8,290.3 333.5,290.0C334.2,289.7 334.8,289.4 335.5,289.1C336.2,288.8 336.8,288.6 337.5,288.3C338.2,288.0 338.8,287.8 339.5,287.6C340.2,287.3 340.8,287.1 341.5,286.9C342.2,286.7 342.8,286.5 343.5,286.4C344.2,286.2 344.8,286.1 345.5,285.9C346.2,285.8 346.8,285.7 347.5,285.6C348.2,285.4 348.8,285.4 349.5,285.3C350.2,285.2 350.8,285.2 351.5,285.2C352.2,285.1 352.8,285.1 353.5,285.1C354.2,285.2 354.8,285.2 355.5,285.2C356.2,285.3 356.8,285.3 357.5,285.4C358.2,285.5 358.8,285.6 359.5,285.8C360.2,285.9 360.8,286.1 361.5,286.3C362.2,286.5 362.8,286.8 363.5,287.0C364.2,287.3 364.8,287.6 365.5,287.9C366.2,288.3 366.8,288.6 367.5,289.0C368.2,289.4 368.8,289.8 369.5,290.2C370.2,290.7 370.8,291.1 371.5,291.6C372.2,292.1 372.8,292.6 373.5,293.1C374.2,293.7 374.8,294.2 375.5,294.8C376.2,295.4 376.8,296.0 377.5,296.6C378.2,297.2 378.8,297.9 379.5,298.5C380.2,299.2 380.8,299.9 381.5,300.6C382.2,301.3 382.8,302.0 383.5,302.7C384.2,303.5 384.8,304.2 385.5,305.0C386.2,305.8 386.8,306.6 387.5,307.3C388.2,308.1 388.8,308.9 389.5,309.7C390.2,310.6 390.8,311.4 391.5,312.2C392.2,313.0 392.8,313.8 393.5,314.7C394.2,315.5 394.8,316.4 395.5,317.2C396.2,318.0 396.8,318.9 397.5,319.7C398.2,320.5 398.8,321.4 399.5,322.2C400.2,323.0 400.8,323.8 401.5,324.6C402.2,325.4 402.8,326.3 403.5,327.1C404.2,327.9 404.8,328.7 405.5,329.4C406.2,330.2 406.8,331.0 407.5,331.8C408.2,332.5 408.8,333.3 409.5,334.1C410.2,334.8 410.8,335.5 411.5,336.3C412.2,337.0 412.8,337.7 413.5,338.4C414.2,339.1 414.8,339.8 415.5,340.5C416.2,341.1 416.8,341.8 417.5,342.5C418.2,343.1 418.8,343.8 419.5,344.4C420.2,345.1 420.8,345.7 421.5,346.3C422.2,347.0 422.8,347.6 423.5,348.2C424.2,348.8 424.8,349.4 425.5,350.0C426.2,350.6 426.8,351.2 427.5,351.8C428.2,352.4 428.8,353.0 429.5,353.6C430.2,354.2 430.8,354.8 431.5,355.4C432.2,355.9 432.8,356.5 433.5,357.1C434.2,357.6 434.8,358.2 435.5,358.7C436.2,359.3 436.8,359.9 437.5,360.4C438.2,361.0 438.8,361.6 439.5,362.2C440.2,362.7 440.8,363.3 441.5,363.9C442.2,364.4 442.8,365.0 443.5,365.5C444.2,366.1 444.8,366.7 445.5,367.2C446.2,367.7 446.8,368.3 447.5,368.8C448.2,369.3 448.8,369.8 449.5,370.3C450.2,370.8 450.8,371.3 451.5,371.8C452.2,372.2 452.8,372.7 453.5,373.1C454.2,373.6 454.8,374.0 455.5,374.4C456.2,374.9 456.8,375.3 457.5,375.7C458.2,376.1 458.8,376.4 459.5,376.8C460.2,377.2 460.8,377.6 461.5,377.9C462.2,378.3 462.8,378.7 463.5,379.0C464.2,379.4 464.8,379.7 465.5,380.0C466.2,380.4 466.8,380.7 467.5,381.0C468.2,381.3 468.8,381.6 469.5,381.9C470.2,382.2 470.8,382.5 471.5,382.8C472.2,383.1 472.8,383.3 473.5,383.6C474.2,383.9 474.8,384.1 475.5,384.4C476.2,384.6 476.8,384.8 477.5,385.0C478.2,385.3 478.8,385.5 479.5,385.7C480.2,385.9 480.8,386.1 481.5,386.3C482.2,386.5 482.8,386.6 483.5,386.8C484.2,387.0 484.8,387.2 485.5,387.3C486.2,387.5 486.8,387.6 487.5,387.8C488.2,387.9 488.8,388.1 489.5,388.2C490.2,388.3 490.8,388.5 491.5,388.6C492.2,388.7 492.8,388.8 493.5,388.9C494.2,389.0 494.8,389.1 495.5,389.2C496.2,389.3 496.8,389.3 497.5,389.4C498.2,389.5 498.8,389.6 499.5,389.6C500.2,389.7 500.8,389.8 501.5,389.8C502.2,389.9 502.8,390.0 503.5,390.0C504.2,390.1 504.8,390.1 505.5,390.2C506.2,390.2 506.8,390.3 507.5,390.3C508.2,390.3 508.8,390.4 509.5,390.4C510.2,390.5 510.8,390.5 511.5,390.5C512.2,390.6 512.8,390.6 513.5,390.6C514.2,390.7 514.8,390.7 515.5,390.7C516.2,390.7 516.8,390.8 517.5,390.8C518.2,390.8 518.8,390.8 519.5,390.8C520.2,390.9 520.8,390.9 521.5,390.9C522.2,390.9 522.8,390.9 523.5,390.9C524.2,390.9 524.8,391.0 525.5,391.0C526.2,391.0 526.8,391.0 527.5,391.0C528.2,391.0 528.8,391.0 529.5,391.0C530.2,391.0 530.8,391.0 531.5,391.0C532.2,391.1 532.8,391.1 533.5,391.1C534.2,391.1 534.8,391.1 535.5,391.1C536.2,391.1 536.8,391.1 537.5,391.1C538.2,391.1 538.8,391.1 539.5,391.1C540.2,391.1 540.8,391.1 541.5,391.1C542.2,391.1 542.8,391.2 543.5,391.2C544.2,391.2 544.8,391.2 545.5,391.2C546.2,391.2 546.8,391.2 547.5,391.2C548.2,391.2 548.8,391.2 549.5,391.3C550.2,391.3 550.8,391.3 551.5,391.3C552.2,391.3 552.9,391.3 553.5,391.4C554.1,391.4 554.8,391.4 555.0,391.4"/>
<path stroke="#176db2" d="M141.5,391.4C141.8,391.3 142.8,391.1 143.5,390.9C144.2,390.7 144.8,390.6 145.5,390.4C146.2,390.2 146.8,390.0 147.5,389.9C148.2,389.7 148.8,389.5 149.5,389.4C150.2,389.2 150.8,389.0 151.5,388.8C152.2,388.7 152.8,388.5 153.5,388.4C154.2,388.2 154.8,388.0 155.5,387.9C156.2,387.7 156.8,387.6 157.5,387.4C158.2,387.3 158.8,387.1 159.5,386.9C160.2,386.8 160.8,386.6 161.5,386.4C162.2,386.3 162.8,386.1 163.5,386.0C164.2,385.8 164.8,385.6 165.5,385.4C166.2,385.3 166.8,385.1 167.5,384.9C168.2,384.8 168.8,384.6 169.5,384.4C170.2,384.3 170.8,384.1 171.5,383.9C172.2,383.7 172.8,383.6 173.5,383.4C174.2,383.2 174.8,383.1 175.5,382.9C176.2,382.7 176.8,382.5 177.5,382.4C178.2,382.2 178.8,382.0 179.5,381.8C180.2,381.6 180.8,381.5 181.5,381.3C182.2,381.1 182.8,380.9 183.5,380.8C184.2,380.6 184.8,380.4 185.5,380.2C186.2,380.0 186.8,379.8 187.5,379.7C188.2,379.5 188.8,379.3 189.5,379.1C190.2,378.9 190.8,378.7 191.5,378.6C192.2,378.4 192.8,378.2 193.5,378.0C194.2,377.8 194.8,377.6 195.5,377.4C196.2,377.3 196.8,377.1 197.5,376.9C198.2,376.7 198.8,376.5 199.5,376.3C200.2,376.1 200.8,375.9 201.5,375.7C202.2,375.5 202.8,375.4 203.5,375.2C204.2,375.0 204.8,374.8 205.5,374.6C206.2,374.4 206.8,374.2 207.5,374.0C208.2,373.8 208.8,373.6 209.5,373.5C210.2,373.3 210.8,373.1 211.5,372.9C212.2,372.7 212.8,372.5 213.5,372.3C214.2,372.1 214.8,371.9 215.5,371.7C216.2,371.5 216.8,371.3 217.5,371.0C218.2,370.8 218.8,370.6 219.5,370.4C220.2,370.2 220.8,370.0 221.5,369.7C222.2,369.5 222.8,369.3 223.5,369.0C224.2,368.8 224.8,368.6 225.5,368.4C226.2,368.1 226.8,367.9 227.5,367.7C228.2,367.4 228.8,367.2 229.5,366.9C230.2,366.7 230.8,366.4 231.5,366.2C232.2,365.9 232.8,365.7 233.5,365.4C234.2,365.1 234.8,364.9 235.5,364.6C236.2,364.3 236.8,364.0 237.5,363.8C238.2,363.5 238.8,363.2 239.5,362.9C240.2,362.6 240.8,362.3 241.5,362.0C242.2,361.6 242.8,361.3 243.5,361.0C244.2,360.7 244.8,360.4 245.5,360.0C246.2,359.7 246.8,359.4 247.5,359.0C248.2,358.7 248.8,358.3 249.5,358.0C250.2,357.6 250.8,357.3 251.5,356.9C252.2,356.5 252.8,356.2 253.5,355.8C254.2,355.4 254.8,355.1 255.5,354.7C256.2,354.3 256.8,353.9 257.5,353.6C258.2,353.2 258.8,352.8 259.5,352.4C260.2,352.0 260.8,351.6 261.5,351.2C262.2,350.9 262.8,350.5 263.5,350.1C264.2,349.7 264.8,349.3 265.5,348.9C266.2,348.5 266.8,348.1 267.5,347.7C268.2,347.3 268.8,346.8 269.5,346.4C270.2,346.0 270.8,345.6 271.5,345.2C272.2,344.8 272.8,344.4 273.5,344.0C274.2,343.6 274.8,343.2 275.5,342.8C276.2,342.4 276.8,341.9 277.5,341.6C278.2,341.2 278.8,340.8 279.5,340.4C280.2,340.0 280.8,339.6 281.5,339.2C282.2,338.8 282.8,338.5 283.5,338.1C284.2,337.7 284.8,337.3 285.5,336.9C286.2,336.6 286.8,336.2 287.5,335.8C288.2,335.4 288.8,335.1 289.5,334.7C290.2,334.3 290.8,333.9 291.5,333.6C292.2,333.2 292.8,332.8 293.5,332.4C294.2,332.1 294.8,331.7 295.5,331.4C296.2,331.0 296.8,330.6 297.5,330.3C298.2,329.9 298.8,329.6 299.5,329.3C300.2,328.9 300.8,328.6 301.5,328.3C302.2,328.0 302.8,327.7 303.5,327.4C304.2,327.0 304.8,326.7 305.5,326.4C306.2,326.1 306.8,325.9 307.5,325.6C308.2,325.3 308.8,325.0 309.5,324.8C310.2,324.5 310.8,324.3 311.5,324.1C312.2,323.9 312.8,323.6 313.5,323.5C314.2,323.3 314.8,323.1 315.5,323.0C316.2,322.8 316.8,322.7 317.5,322.6C318.2,322.4 318.8,322.3 319.5,322.2C320.2,322.1 320.8,322.0 321.5,322.0C322.2,321.9 322.8,321.8 323.5,321.8C324.2,321.7 324.8,321.7 325.5,321.7C326.2,321.6 326.8,321.6 327.5,321.6C328.2,321.6 328.8,321.6 329.5,321.7C330.2,321.7 330.8,321.7 331.5,321.8C332.2,321.9 332.8,321.9 333.5,322.0C334.2,322.1 334.8,322.2 335.5,322.3C336.2,322.4 336.8,322.6 337.5,322.7C338.2,322.9 338.8,323.0 339.5,323.2C340.2,323.4 340.8,323.6 341.5,323.8C342.2,324.0 342.8,324.2 343.5,324.5C344.2,324.7 344.8,325.0 345.5,325.2C346.2,325.5 346.8,325.8 347.5,326.1C348.2,326.4 348.8,326.7 349.5,327.1C350.2,327.4 350.8,327.8 351.5,328.1C352.2,328.5 352.8,328.8 353.5,329.2C354.2,329.6 354.8,329.9 355.5,330.3C356.2,330.7 356.8,331.1 357.5,331.5C358.2,331.9 358.8,332.4 359.5,332.8C360.2,333.2 360.8,333.7 361.5,334.1C362.2,334.6 362.8,335.0 363.5,335.5C364.2,335.9 364.8,336.4 365.5,336.9C366.2,337.4 366.8,337.9 367.5,338.4C368.2,338.9 368.8,339.4 369.5,339.9C370.2,340.4 370.8,340.9 371.5,341.4C372.2,341.9 372.8,342.4 373.5,343.0C374.2,343.5 374.8,344.0 375.5,344.6C376.2,345.1 376.8,345.7 377.5,346.2C378.2,346.8 378.8,347.3 379.5,347.9C380.2,348.5 380.8,349.0 381.5,349.6C382.2,350.2 382.8,350.7 383.5,351.3C384.2,351.9 384.8,352.5 385.5,353.0C386.2,353.6 386.8,354.2 387.5,354.8C388.2,355.3 388.8,355.9 389.5,356.5C390.2,357.1 390.8,357.6 391.5,358.2C392.2,358.8 392.8,359.4 393.5,359.9C394.2,360.5 394.8,361.1 395.5,361.7C396.2,362.2 396.8,362.8 397.5,363.4C398.2,364.0 398.8,364.5 399.5,365.1C400.2,365.7 400.8,366.2 401.5,366.8C402.2,367.3 402.8,367.9 403.5,368.4C404.2,369.0 404.8,369.5 405.5,370.0C406.2,370.5 406.8,371.1 407.5,371.6C408.2,372.1 408.8,372.6 409.5,373.1C410.2,373.6 410.8,374.1 411.5,374.5C412.2,375.0 412.8,375.5 413.5,375.9C414.2,376.4 414.8,376.8 415.5,377.2C416.2,377.7 416.8,378.1 417.5,378.5C418.2,378.9 418.8,379.3 419.5,379.7C420.2,380.1 420.8,380.4 421.5,380.8C422.2,381.1 422.8,381.5 423.5,381.8C424.2,382.1 424.8,382.4 425.5,382.8C426.2,383.1 426.8,383.3 427.5,383.6C428.2,383.9 428.8,384.2 429.5,384.4C430.2,384.7 430.8,384.9 431.5,385.1C432.2,385.4 432.8,385.6 433.5,385.8C434.2,386.0 434.8,386.2 435.5,386.3C436.2,386.5 436.8,386.7 437.5,386.8C438.2,387.0 438.8,387.1 439.5,387.3C440.2,387.4 440.8,387.6 441.5,387.7C442.2,387.8 442.8,387.9 443.5,388.0C444.2,388.2 444.8,388.3 445.5,388.4C446.2,388.5 446.8,388.6 447.5,388.6C448.2,388.7 448.8,388.8 449.5,388.9C450.2,389.0 450.8,389.1 451.5,389.1C452.2,389.2 452.8,389.3 453.5,389.3C454.2,389.4 454.8,389.4 455.5,389.5C456.2,389.6 456.8,389.6 457.5,389.7C458.2,389.7 458.8,389.8 459.5,389.8C460.2,389.9 460.8,389.9 461.5,389.9C462.2,390.0 462.8,390.0 463.5,390.1C464.2,390.1 464.8,390.2 465.5,390.2C466.2,390.2 466.8,390.3 467.5,390.3C468.2,390.3 468.8,390.4 469.5,390.4C470.2,390.4 470.8,390.5 471.5,390.5C472.2,390.5 472.8,390.5 473.5,390.6C474.2,390.6 474.8,390.6 475.5,390.6C476.2,390.7 476.8,390.7 477.5,390.7C478.2,390.7 478.8,390.7 479.5,390.8C480.2,390.8 480.8,390.8 481.5,390.8C482.2,390.8 482.8,390.9 483.5,390.9C484.2,390.9 484.8,390.9 485.5,390.9C486.2,391.0 486.8,391.0 487.5,391.0C488.2,391.0 488.8,391.0 489.5,391.0C490.2,391.1 490.8,391.1 491.5,391.1C492.2,391.1 492.8,391.1 493.5,391.1C494.2,391.1 494.8,391.2 495.5,391.2C496.2,391.2 496.8,391.2 497.5,391.2C498.2,391.2 498.8,391.3 499.5,391.3C500.2,391.3 500.8,391.3 501.5,391.3C502.2,391.4 503.1,391.4 503.5,391.4C503.9,391.4 503.6,391.4 503.6,391.4"/>
</g>
<g class="tick" text-anchor="end">
<text x="122.4" y="28.6">200000</text>
<text x="122.4" y="102.6">160000</text>
<text x="122.4" y="176.6">120000</text>
<text x="122.4" y="250.6">80000</text>
<text x="122.4" y="323.6">40000</text>
<text x="122.4" y="397.6">0</text>
</g>
<g class="tick" text-anchor="middle">
<text x="142.3" y="425.2">10</text>
<text x="470.8" y="425.2">100</text>
<text x="800.2" y="425.2">1000</text>
</g>
<text class="title" text-anchor="middle" x="469" y="460.3">x [nm]</text>
<text class="title ytitle" text-anchor="middle" transform="translate(39.5,208.4) rotate(-90)">C<tspan class="sub" dy="5">n</tspan><tspan dy="-5"> [cm</tspan><tspan class="sup" dy="-6.5">-3</tspan><tspan dy="6.5">]</tspan></text>
</svg>
</body>
</html>
